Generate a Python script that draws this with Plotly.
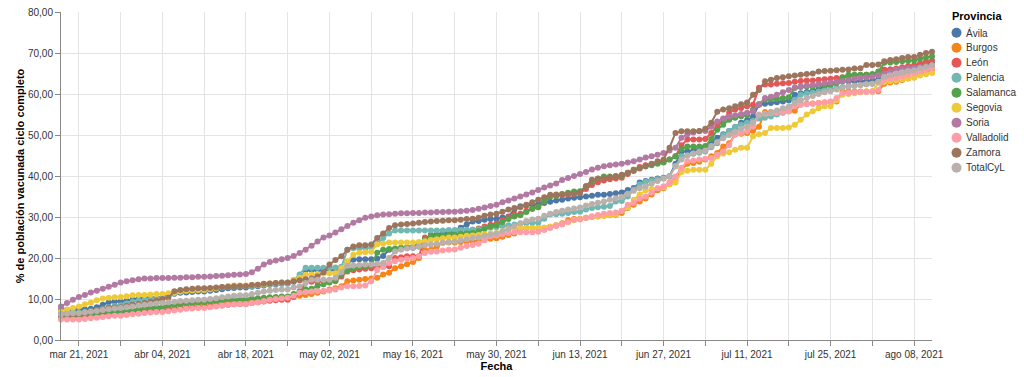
import plotly.graph_objects as go
import pandas as pd

start_date = "2021-03-18"
n_days = 147
fechas = pd.date_range(start_date, periods=n_days)

provincias = ["Ávila", "Burgos", "León", "Palencia", "Salamanca", "Segovia",
              "Soria", "Valladolid", "Zamora", "TotalCyL"]
colores = ["#4c78a8", "#f58518", "#e45756", "#72b7b2", "#54a24b", "#eeca3b",
           "#b279a2", "#ff9da6", "#9d755d", "#bab0ac"]

avila = [
    7.4, 7.4, 7.4, 7.4, 7.5, 7.6, 8.0,
    8.6, 9.2, 9.4, 9.4, 9.6, 9.9, 10.2,
    10.3, 10.3, 10.3, 10.4, 10.8, 11.3, 11.5,
    11.6, 11.7, 11.8, 11.8, 12.0, 12.2, 12.4,
    12.6, 12.7, 12.8, 12.8, 13.0, 13.1, 13.3,
    13.5, 13.6, 13.7, 13.8, 14.2, 14.7, 17.0,
    17.0, 17.0, 17.0, 17.0, 17.1, 17.8, 18.8,
    19.6, 19.7, 19.7, 19.7, 19.8, 20.5, 22.0,
    22.1, 22.3, 22.5, 22.5, 22.8, 24.0, 25.7,
    25.8, 26.0, 26.3, 26.5, 27.4, 28.2, 28.9,
    29.0, 29.3, 29.5, 29.6, 29.9, 30.1, 31.8,
    32.6, 32.8, 33.0, 33.1, 33.4, 33.7, 34.0,
    34.2, 34.5, 34.7, 34.8, 35.0, 35.2, 35.4,
    35.4, 35.6, 35.8, 36.0, 36.6, 37.1, 38.4,
    38.8, 39.1, 39.4, 39.6, 39.9, 43.0, 46.0,
    46.0, 46.3, 46.6, 46.9, 48.0, 49.3, 50.2,
    51.0, 51.8, 53.0, 53.6, 54.5, 57.4, 57.6,
    57.8, 58.0, 58.2, 58.4, 59.8, 60.2, 60.5,
    60.8, 61.3, 61.8, 62.2, 62.7, 63.1, 63.1,
    63.1, 63.1, 63.2, 63.3, 63.6, 65.9, 66.0,
    66.0, 66.2, 66.5, 66.7, 67.0, 67.3, 67.6,
]

burgos = [
    5.4, 5.5, 5.6, 5.6, 5.8, 6.0, 6.2,
    6.4, 6.6, 6.7, 6.7, 6.9, 7.1, 7.3,
    7.5, 7.7, 7.8, 7.8, 8.1, 8.3, 8.5,
    8.6, 8.7, 8.8, 8.8, 9.0, 9.1, 9.3,
    9.4, 9.5, 9.6, 9.6, 9.8, 9.9, 10.1,
    10.2, 10.3, 10.4, 10.4, 10.6, 10.8, 11.0,
    11.2, 11.5, 11.8, 12.3, 12.6, 13.1, 14.3,
    14.5, 14.7, 14.9, 15.0, 15.2, 16.0, 16.4,
    17.5, 18.0, 18.5, 19.0, 20.0, 22.0, 22.0,
    22.8, 23.7, 23.8, 23.8, 23.9, 24.0, 24.0,
    24.3, 24.5, 24.7, 24.8, 25.2, 25.6, 26.0,
    27.0, 27.3, 27.3, 27.3, 27.4, 27.6, 28.0,
    28.5, 29.2, 29.5, 29.6, 29.8, 30.0, 30.1,
    30.3, 30.4, 30.5, 31.0, 32.2, 33.0, 33.8,
    34.5, 35.5, 36.5, 37.0, 38.0, 39.0, 41.5,
    43.0, 43.2, 43.5, 44.0, 44.8, 45.6, 47.2,
    48.0, 50.1, 50.3, 50.5, 51.0, 52.0, 55.6,
    55.6, 55.7, 55.8, 55.8, 55.9, 57.5, 57.6,
    57.7, 57.8, 57.9, 58.0, 58.2, 60.6, 60.6,
    60.6, 60.6, 60.6, 60.6, 60.7, 62.5, 62.8,
    63.0, 63.4, 63.8, 64.0, 64.8, 65.4, 66.0,
]

leon = [
    5.9, 5.9, 6.0, 6.0, 6.1, 6.2, 6.4,
    6.5, 6.6, 6.7, 6.7, 6.8, 6.9, 7.1,
    7.2, 7.3, 7.3, 7.3, 7.4, 7.5, 7.7,
    7.8, 7.9, 8.0, 8.0, 8.1, 8.3, 8.4,
    8.6, 8.7, 8.8, 8.8, 9.0, 9.2, 9.4,
    9.6, 9.7, 9.8, 9.8, 10.5, 11.5, 14.2,
    14.2, 14.2, 14.2, 14.2, 14.3, 15.5, 16.7,
    17.0, 17.2, 17.4, 17.5, 17.7, 17.9, 18.0,
    20.0, 20.2, 20.4, 20.4, 20.4, 25.0, 25.3,
    25.3, 25.4, 25.5, 25.5, 25.9, 26.4, 26.9,
    27.2, 27.7, 28.1, 28.4, 29.2, 30.0, 30.6,
    30.8, 31.5, 32.0, 32.4, 33.8, 35.0, 35.2,
    35.3, 35.5, 35.7, 35.9, 36.8, 37.8, 38.5,
    38.9, 39.2, 39.4, 39.6, 40.5, 41.5, 42.2,
    42.6, 42.9, 43.2, 43.4, 44.0, 44.8, 47.5,
    48.9, 48.9, 48.9, 49.0, 50.5, 52.0, 53.7,
    55.5, 56.2, 56.6, 57.0, 57.4, 61.5, 62.3,
    62.3, 62.5, 62.6, 62.7, 63.0, 63.2, 63.3,
    63.3, 63.5, 63.6, 63.7, 63.9, 64.1, 64.2,
    64.5, 64.6, 64.7, 64.8, 65.1, 65.9, 66.0,
    66.2, 66.5, 66.8, 67.0, 67.5, 67.9, 68.2,
]

palencia = [
    6.5, 6.6, 6.7, 6.7, 6.9, 7.1, 7.3,
    7.6, 8.0, 8.3, 8.5, 8.9, 9.3, 9.6,
    9.8, 10.0, 10.2, 10.3, 10.8, 11.3, 11.8,
    12.1, 12.2, 12.3, 12.3, 12.5, 12.6, 12.8,
    12.9, 13.0, 13.1, 13.1, 13.2, 13.3, 13.5,
    13.6, 13.7, 13.8, 13.8, 14.5, 16.0, 17.6,
    17.6, 17.6, 17.6, 17.6, 17.7, 17.8, 22.0,
    22.4, 22.4, 22.4, 22.5, 23.5, 24.9, 26.0,
    26.7, 26.7, 26.7, 26.7, 26.7, 26.7, 26.7,
    26.7, 26.7, 26.8, 26.8, 26.8, 26.9, 26.9,
    27.0, 27.2, 27.4, 27.5, 27.8, 28.0, 28.2,
    28.4, 28.5, 28.6, 28.6, 29.6, 30.6, 30.7,
    30.8, 31.0, 31.2, 31.3, 31.8, 32.2, 32.4,
    32.5, 32.7, 33.8, 33.9, 35.0, 36.7, 38.0,
    38.6, 38.9, 39.2, 39.4, 40.0, 42.5, 44.8,
    45.0, 45.4, 45.7, 46.0, 47.0, 48.0, 50.0,
    51.0, 52.0, 52.5, 53.0, 53.5, 54.0, 54.2,
    54.5, 55.0, 55.4, 55.8, 58.6, 59.8, 60.1,
    60.3, 60.6, 60.9, 61.2, 61.5, 61.7, 61.9,
    62.0, 62.2, 62.4, 62.5, 63.0, 63.8, 64.2,
    64.5, 64.8, 65.1, 65.3, 65.7, 66.1, 66.5,
]

salamanca = [
    6.0, 6.1, 6.2, 6.2, 6.3, 6.5, 6.6,
    6.8, 6.9, 7.0, 7.0, 7.2, 7.4, 7.6,
    7.8, 8.0, 8.1, 8.1, 8.4, 8.6, 8.8,
    9.0, 9.1, 9.2, 9.2, 9.4, 9.5, 9.7,
    9.8, 9.9, 9.9, 10.0, 10.1, 10.2, 10.3,
    10.4, 10.5, 10.6, 10.6, 11.2, 11.9, 12.4,
    12.5, 13.2, 13.6, 14.0, 14.5, 16.0, 17.0,
    17.5, 17.8, 18.0, 18.2, 21.3, 22.0, 22.2,
    22.3, 22.5, 22.6, 22.8, 23.6, 24.5, 25.3,
    25.4, 25.5, 25.6, 25.7, 25.9, 26.0, 26.1,
    26.5, 27.1, 27.7, 28.0, 28.8, 29.5, 30.1,
    30.4, 31.2, 32.0, 32.5, 33.8, 35.0, 35.2,
    35.6, 35.9, 36.2, 36.3, 37.5, 38.6, 39.4,
    39.9, 39.9, 40.0, 40.0, 40.8, 41.5, 42.0,
    42.3, 42.6, 43.0, 43.3, 44.0, 44.8, 46.5,
    47.2, 47.2, 47.2, 47.3, 49.0, 51.3, 52.5,
    53.7, 54.2, 54.6, 54.8, 56.2, 57.5, 58.6,
    58.7, 58.8, 59.0, 59.2, 61.5, 61.7, 61.8,
    61.8, 62.0, 62.2, 62.3, 62.7, 64.0, 64.7,
    64.7, 64.7, 64.7, 64.8, 65.5, 67.6, 67.7,
    67.8, 68.0, 68.1, 68.2, 68.6, 68.9, 69.2,
]

segovia = [
    7.0, 7.4, 7.8, 8.2, 8.7, 9.1, 9.7,
    10.1, 10.3, 10.4, 10.5, 10.7, 10.9, 11.0,
    11.0, 11.1, 11.2, 11.2, 11.4, 11.6, 11.8,
    12.0, 12.1, 12.2, 12.2, 12.4, 12.6, 12.9,
    13.2, 13.3, 13.3, 13.3, 13.4, 13.5, 13.6,
    13.8, 13.9, 14.0, 14.0, 14.7, 15.2, 15.9,
    16.0, 16.1, 16.2, 16.3, 16.3, 17.5, 19.2,
    20.8, 21.3, 21.4, 21.5, 23.3, 23.5, 23.8,
    23.8, 23.8, 23.8, 23.8, 23.9, 24.1, 24.4,
    24.6, 24.8, 25.0, 25.0, 25.2, 25.4, 25.5,
    25.6, 25.8, 26.0, 26.1, 26.5, 26.9, 27.2,
    27.3, 27.3, 27.3, 27.3, 27.4, 27.6, 27.9,
    28.3, 28.7, 29.2, 29.5, 29.8, 30.0, 30.2,
    30.3, 30.5, 30.6, 31.5, 32.3, 34.2, 35.5,
    36.5, 36.8, 37.0, 37.2, 38.0, 38.4, 41.0,
    41.3, 41.5, 41.5, 41.5, 43.0, 44.8, 45.5,
    45.8, 46.4, 46.9, 46.9, 49.7, 50.2, 50.5,
    51.7, 51.7, 51.7, 51.8, 52.5, 53.7, 55.0,
    55.8, 56.5, 57.0, 57.0, 58.5, 59.8, 60.0,
    60.2, 60.4, 60.6, 60.6, 62.7, 62.9, 63.1,
    63.3, 63.6, 63.8, 64.0, 64.5, 64.8, 65.1,
]

soria = [
    8.2, 9.0, 9.8, 10.5, 11.0, 11.6, 12.0,
    12.5, 13.0, 13.5, 14.0, 14.3, 14.6, 14.8,
    15.0, 15.0, 15.1, 15.1, 15.1, 15.2, 15.2,
    15.3, 15.3, 15.4, 15.4, 15.5, 15.6, 15.7,
    15.8, 15.9, 16.0, 16.1, 16.5, 17.4, 18.4,
    19.0, 19.4, 19.7, 20.0, 20.5, 21.2, 22.0,
    23.0, 24.0, 25.0, 25.5, 26.2, 27.0, 27.8,
    28.6, 29.2, 29.8, 30.1, 30.4, 30.6, 30.7,
    30.8, 30.9, 30.9, 31.0, 31.0, 31.1, 31.1,
    31.2, 31.2, 31.3, 31.3, 31.4, 31.5, 31.7,
    32.0, 32.3, 32.7, 33.0, 33.6, 34.0, 34.5,
    35.0, 35.5, 36.0, 36.6, 37.2, 37.7, 38.2,
    39.0, 39.5, 40.0, 40.5, 41.0, 41.6, 42.0,
    42.4, 42.6, 42.8, 43.0, 43.3, 43.6, 44.0,
    44.5, 44.8, 45.2, 45.6, 46.2, 46.9, 49.3,
    50.2, 50.6, 50.9, 51.0, 52.0, 53.3, 54.0,
    54.5, 54.8, 55.1, 55.4, 55.8, 57.5, 59.0,
    59.3, 59.8, 60.4, 61.0, 61.5, 61.9, 62.1,
    62.2, 62.4, 62.6, 62.8, 63.0, 63.1, 63.4,
    63.7, 63.9, 64.0, 64.2, 64.6, 65.0, 65.5,
    65.9, 66.1, 66.3, 66.4, 66.6, 66.8, 67.0,
]

valladolid = [
    5.0, 5.0, 5.0, 5.0, 5.1, 5.3, 5.4,
    5.6, 5.8, 5.9, 5.9, 6.1, 6.3, 6.4,
    6.6, 6.7, 6.8, 6.8, 7.0, 7.2, 7.4,
    7.6, 7.7, 7.8, 7.8, 8.0, 8.2, 8.4,
    8.6, 8.7, 8.8, 8.8, 9.0, 9.2, 9.5,
    9.8, 10.0, 10.2, 10.3, 10.8, 11.5, 11.7,
    11.8, 11.9, 12.0, 12.1, 12.3, 12.8, 13.1,
    13.1, 13.2, 13.3, 14.3, 17.1, 17.8, 18.8,
    19.2, 19.6, 19.8, 20.0, 20.4, 21.2, 21.5,
    21.6, 21.8, 22.0, 22.1, 22.5, 22.9, 23.2,
    23.5, 24.3, 25.3, 25.5, 25.8, 26.1, 26.3,
    26.3, 26.3, 26.3, 26.4, 26.8, 27.3, 27.8,
    28.2, 28.8, 29.3, 29.4, 29.8, 30.2, 30.5,
    30.8, 31.0, 31.1, 31.5, 33.0, 33.4, 34.5,
    35.0, 36.0, 37.0, 37.5, 38.5, 39.9, 42.0,
    43.6, 43.8, 44.0, 44.2, 44.4, 45.2, 46.0,
    47.5, 50.1, 50.5, 50.9, 52.1, 55.0, 55.2,
    55.3, 55.4, 55.6, 55.8, 57.0, 57.4, 57.5,
    57.6, 57.8, 58.0, 58.2, 59.0, 60.2, 60.3,
    60.4, 60.5, 60.5, 60.6, 61.0, 63.5, 63.7,
    63.9, 64.3, 64.7, 65.0, 65.5, 65.9, 66.3,
]

zamora = [
    6.2, 6.3, 6.4, 6.4, 6.6, 7.0, 7.3,
    7.5, 7.8, 7.9, 8.0, 8.3, 8.6, 8.8,
    9.0, 9.3, 9.6, 10.0, 10.3, 11.9, 12.2,
    12.4, 12.5, 12.6, 12.6, 12.7, 12.8, 12.9,
    13.0, 13.1, 13.2, 13.2, 13.4, 13.5, 13.7,
    13.8, 13.9, 14.0, 14.0, 14.3, 14.6, 14.8,
    15.0, 15.5, 16.5, 18.4, 19.5, 20.4, 22.0,
    22.8, 23.1, 23.1, 23.3, 24.9, 26.0, 27.3,
    28.0, 28.2, 28.3, 28.4, 28.6, 28.8, 28.9,
    29.0, 29.1, 29.2, 29.2, 29.3, 29.5, 29.6,
    29.8, 30.3, 30.6, 30.8, 31.3, 31.8, 32.2,
    32.4, 33.0, 33.6, 34.2, 34.8, 35.4, 35.5,
    35.5, 35.6, 35.7, 35.9, 37.5, 39.1, 39.3,
    39.5, 39.7, 39.9, 40.3, 40.8, 41.2, 41.8,
    42.5, 43.0, 43.6, 44.0, 46.9, 50.5, 50.9,
    50.9, 50.9, 51.0, 51.5, 53.0, 55.7, 56.2,
    56.5, 57.0, 57.5, 57.9, 59.8, 61.0, 63.1,
    63.5, 63.9, 64.1, 64.3, 64.5, 64.7, 64.9,
    65.0, 65.5, 65.6, 65.7, 65.8, 65.9, 66.0,
    66.2, 66.3, 67.1, 67.1, 67.2, 68.0, 68.3,
    68.5, 68.8, 69.0, 69.0, 69.6, 70.0, 70.3,
]

total_cyl = [
    6.3, 6.4, 6.5, 6.5, 6.7, 6.9, 7.1,
    7.3, 7.5, 7.7, 7.8, 8.0, 8.2, 8.4,
    8.6, 8.8, 8.9, 9.0, 9.2, 9.3, 9.5,
    9.6, 9.7, 9.8, 9.8, 10.0, 10.2, 10.4,
    10.6, 10.8, 10.9, 10.9, 11.2, 11.5, 11.8,
    12.0, 12.2, 12.3, 12.3, 12.8, 13.1, 13.9,
    14.7, 14.7, 14.7, 14.7, 15.2, 16.5, 18.1,
    18.2, 18.3, 18.4, 18.4, 18.6, 18.8, 20.0,
    21.6, 22.0, 22.3, 22.5, 22.8, 23.1, 23.3,
    23.5, 23.7, 23.9, 24.0, 24.3, 24.6, 24.9,
    25.0, 25.4, 25.7, 25.9, 26.5, 27.2, 27.8,
    28.5, 29.0, 29.4, 29.6, 30.3, 30.8, 31.2,
    31.5, 31.8, 32.1, 32.3, 32.8, 33.2, 33.5,
    33.8, 34.2, 34.6, 34.9, 35.7, 36.4, 37.0,
    37.5, 38.2, 38.8, 39.4, 39.9, 42.3, 44.0,
    45.0, 45.5, 45.9, 46.2, 47.3, 48.3, 49.2,
    50.0, 50.8, 51.5, 52.0, 53.0, 54.8, 55.2,
    55.5, 56.0, 56.5, 56.9, 57.8, 58.5, 59.0,
    59.5, 60.0, 60.4, 60.7, 61.1, 61.5, 61.8,
    62.0, 62.2, 62.4, 62.5, 63.0, 64.2, 64.6,
    65.0, 65.3, 65.6, 65.8, 66.3, 66.6, 67.0,
]

series = [avila, burgos, leon, palencia, salamanca, segovia,
          soria, valladolid, zamora, total_cyl]

x_tick_dates = ["2021-03-21", "2021-03-28", "2021-04-04", "2021-04-11", "2021-04-18",
                "2021-04-25", "2021-05-02", "2021-05-09", "2021-05-16", "2021-05-23",
                "2021-05-30", "2021-06-06", "2021-06-13", "2021-06-20", "2021-06-27",
                "2021-07-04", "2021-07-11", "2021-07-18", "2021-07-25", "2021-08-01",
                "2021-08-08"]
x_tick_labels = ["mar 21, 2021", "", "abr 04, 2021", "", "abr 18, 2021", "",
                 "may 02, 2021", "", "may 16, 2021", "", "may 30, 2021", "",
                 "jun 13, 2021", "", "jun 27, 2021", "", "jul 11, 2021", "",
                 "jul 25, 2021", "", "ago 08, 2021"]
y_tick_vals = [0, 10, 20, 30, 40, 50, 60, 70, 80]
y_tick_labels = ["0,00", "10,00", "20,00", "30,00", "40,00", "50,00",
                 "60,00", "70,00", "80,00"]

FONT = "Liberation Sans, Arial, sans-serif"

W, H = 1024, 377
# plot area in page pixels: x 61..932, y 12..340
ML, MT, MR, MB = 61, 12, 1024 - 932, 377 - 340
PW, PH = W - ML - MR, H - MT - MB


def px_x(px):
    return (px - ML) / PW


def px_y(py):
    return (H - MB - py) / PH


fig = go.Figure()
for name, vals, col in zip(provincias, series, colores):
    fig.add_trace(go.Scatter(
        x=fechas, y=vals, name=name, mode="lines+markers",
        line=dict(color=col, width=2),
        marker=dict(color=col, size=6),
        cliponaxis=False, showlegend=False,
        hovertemplate="%{x|%d/%m/%Y}: %{y:.2f}<extra>" + name + "</extra>",
    ))

# custom legend: title, circles and labels
shapes = []
annotations = [dict(
    x=px_x(950), y=px_y(16.5), xref="paper", yref="paper",
    xanchor="left", yanchor="middle", showarrow=False,
    text="<b>Provincia</b>", font=dict(size=11, color="#000", family=FONT),
)]
for i, (name, col) in enumerate(zip(provincias, colores)):
    cy = 32.7 + 15 * i
    shapes.append(dict(
        type="circle", xref="paper", yref="paper",
        xsizemode="pixel", ysizemode="pixel",
        xanchor=px_x(956.5), yanchor=px_y(cy),
        x0=-5, x1=5, y0=-5, y1=5,
        fillcolor=col, line=dict(width=0), layer="above",
    ))
    annotations.append(dict(
        x=px_x(964), y=px_y(cy), xref="paper", yref="paper",
        xanchor="left", yanchor="middle", showarrow=False,
        text=name, font=dict(size=10, color="#333", family=FONT),
    ))

fig.update_layout(
    width=W, height=H,
    margin=dict(l=ML, r=MR, t=MT, b=MB, autoexpand=False),
    paper_bgcolor="white", plot_bgcolor="white",
    font=dict(family=FONT, size=10, color="#333"),
    showlegend=False,
    shapes=shapes, annotations=annotations,
    xaxis=dict(
        range=["2021-03-18", "2021-08-11"],
        tickvals=x_tick_dates, ticktext=x_tick_labels,
        showgrid=True, gridcolor="#e4e4e4", gridwidth=1,
        showline=True, linecolor="#888", linewidth=1,
        ticks="outside", ticklen=5, tickcolor="#888",
        tickfont=dict(size=10, color="#333"),
        title=dict(text="<b>Fecha</b>", font=dict(size=11, color="#000"), standoff=2),
        zeroline=False, automargin=False,
    ),
    yaxis=dict(
        range=[0, 80],
        tickvals=y_tick_vals, ticktext=y_tick_labels,
        showgrid=True, gridcolor="#e4e4e4", gridwidth=1,
        showline=True, linecolor="#888", linewidth=1,
        ticks="outside", ticklen=5, tickcolor="#888",
        tickfont=dict(size=10, color="#333"),
        title=dict(text="<b>% de población vacunada ciclo completo</b>",
                   font=dict(size=11, color="#000"), standoff=1),
        zeroline=False, automargin=False,
    ),
)

# remove the page's default 8px body margin so the figure fills the window
fig.write_html("out.html", config={"displayModeBar": False},
               post_script="document.body.style.margin='0px';")
